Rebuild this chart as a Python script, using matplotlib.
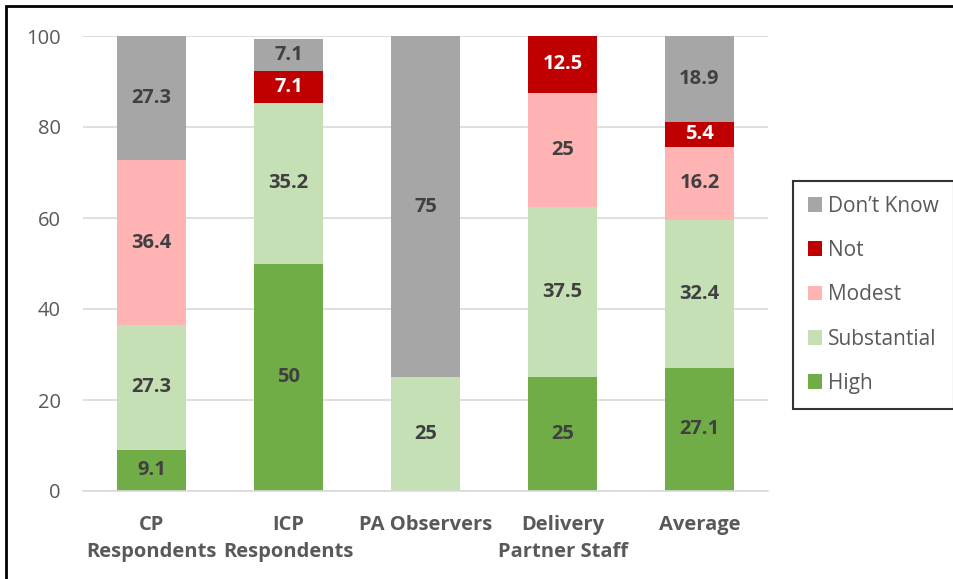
import numpy as np
import matplotlib.pyplot as plt
from matplotlib.patches import Rectangle

categories = ['CP\nRespondents', 'ICP\nRespondents', 'PA Observers', 'Delivery\nPartner Staff', 'Average']
high = [9.1, 50, 0, 25, 27.1]
substantial = [27.3, 35.2, 25, 37.5, 32.4]
modest = [36.4, 0, 0, 25, 16.2]
not_ = [0, 7.1, 0, 12.5, 5.4]
dont_know = [27.3, 7.1, 75, 0, 18.9]

series = [
    ('High', high, '#70AD47', '#404040'),
    ('Substantial', substantial, '#C5E0B4', '#404040'),
    ('Modest', modest, '#FFB3B3', '#404040'),
    ('Not', not_, '#C00000', 'white'),
    ('Don\u2019t Know', dont_know, '#A6A6A6', '#404040'),
]

plt.rcParams['font.family'] = ['Open Sans', 'DejaVu Sans']

fig = plt.figure(figsize=(9.54, 5.79), dpi=100)
ax = fig.add_axes([83 / 954, 1 - 491 / 579, 685 / 954, 455 / 579])

x = np.arange(len(categories))
bottom = np.zeros(len(categories))
handles = []
for name, vals, color, tcolor in series:
    vals = np.array(vals, dtype=float)
    b = ax.bar(x, vals, 0.5, bottom=bottom, color=color, label=name, zorder=2)
    handles.append(b)
    for xi, v, bt in zip(x, vals, bottom):
        if v > 0:
            ax.text(xi, bt + v / 2, f'{v:g}', ha='center', va='center',
                    fontsize=14.5, fontweight='bold', color=tcolor, zorder=3)
    bottom += vals

ax.set_ylim(0, 100)
ax.set_xlim(-0.5, len(categories) - 0.5)
ax.set_yticks(range(0, 101, 20))
ax.yaxis.grid(True, color='#D9D9D9', linewidth=1.2, zorder=0)
ax.set_axisbelow(True)
for s in ['top', 'right', 'left']:
    ax.spines[s].set_visible(False)
ax.spines['bottom'].set_color('#D9D9D9')
ax.spines['bottom'].set_linewidth(1.2)
ax.tick_params(axis='both', length=0, colors='#595959', labelsize=14.5)
ax.tick_params(axis='y', pad=16)
ax.tick_params(axis='x', pad=17)
ax.set_xticks(x)
ax.set_xticklabels(categories, fontweight='bold', fontsize=14.5, color='#595959', linespacing=1.5)

leg = fig.legend(handles=handles[::-1], loc='upper left',
                 bbox_to_anchor=(793 / 954, 1 - 181 / 579),
                 frameon=True, fancybox=False, edgecolor='black', fontsize=15,
                 handlelength=0.7, handleheight=0.7, labelspacing=1.12,
                 borderpad=0.7, handletextpad=0.3, borderaxespad=0)
leg.get_frame().set_linewidth(1.5)
for t in leg.get_texts():
    t.set_color('#595959')

# outer frame: left and top edges only visible (cropped screenshot)
fig.patches.append(Rectangle((6 / 954, -0.01), 1.0, 1 - 6 / 579 + 0.01,
                             transform=fig.transFigure, fill=False,
                             edgecolor='black', linewidth=2))

fig.savefig('out.png', dpi=100)
